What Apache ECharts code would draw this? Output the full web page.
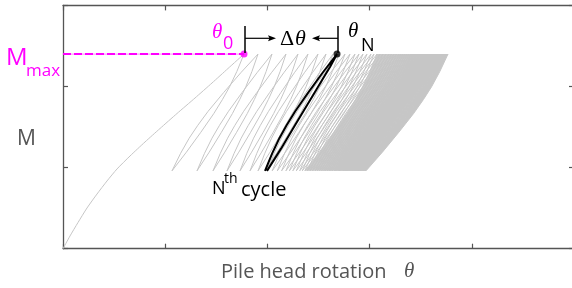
<!DOCTYPE html>
<html><head><meta charset="utf-8">
<script src="https://cdn.jsdelivr.net/npm/echarts/dist/echarts.min.js"></script>
<style>html,body{margin:0;padding:0;background:#fff;overflow:hidden}#c{width:572px;height:288px}</style>
</head><body><div id="c"></div>
<script>
// Axis ranges (arbitrary units, no tick labels in the reference)
const xTicks = [0, 102.2, 204.4, 306.6, 408.8, 511];
const yTicks = [0, 100, 200, 300];
const M_MAX = 240;
const M_MIN = 96;

// Monotonic (backbone) loading curve up to theta_0
const backboneTheta = [0, 7, 15, 24, 34, 44, 54, 67, 82, 97, 114, 132, 149, 165, 181];
const backboneM     = [0, 15.7, 32.3, 50.2, 67.4, 83.5, 98.3, 114.3, 131.6, 148.2, 166.7, 185.8, 204.3, 222.2, 240];

// Peak rotations (at M_MAX) and the valley rotation (at M_MIN) reached after each one
const peaks = [181,195,209,223,235,245,255,263,270,
  276,282,287,292,296,300,304,308,311,314,
  317,320,323,326,328.5,331,333.5,336,338,340,
  342,344,346,348,349.5,351,352.5,354,355.5,357,
  358.5,360,361.2,362.4,363.6,364.8,366,367.2,368.3,369.4,
  370.5,371.6,372.6,373.6,374.6,375.6,376.5,377.4,378.3,379.2,
  380.1,381,381.8,382.6,383.4,384.2,385];
const valleys = [109,134,150,164,177,187,195,202,204,
  209.2,214.3,218.6,222.9,226.4,229.8,233.3,236.7,239.3,241.9,
  244.5,247,249.6,252.2,254.4,256.5,258.7,260.8,262.5,264.3,
  266,267.7,269.4,271.2,272.5,273.7,275,276.3,277.6,278.9,
  280.2,281.5,282.5,283.5,284.5,285.6,286.6,287.6,288.6,289.5,
  290.5,291.4,292.3,293.1,294,294.9,295.6,296.4,297.2,297.9,
  298.7,299.5,300.2,300.9,301.5,302.2,303];

// Highlighted N-th cycle
const nthValley = 202;
const nthPeak = 274;
const nthReturn = 204;

// Branch shapes (fraction of rotation span vs fraction of moment span)
const branchS = [0, 0.1, 0.2, 0.3, 0.42, 0.6, 0.8, 1];
const branchG = [0, 0.15, 0.28, 0.39, 0.51, 0.67, 0.84, 1];
const nthUnloadG = [0, 0.11, 0.21, 0.31, 0.43, 0.61, 0.81, 1];

// first cycle whose lines merge into the solid grey band
const solidFrom = 18;

const theta0 = peaks[0];

function unload(p, v, out, skipFirst, G) {
  G = G || branchG;
  for (let k = skipFirst ? 1 : 0; k < branchS.length; k++)
    out.push([p - branchS[k] * (p - v), M_MAX - G[k] * (M_MAX - M_MIN)]);
}
function reload(v, p, out, skipFirst) {
  for (let k = skipFirst ? 1 : 0; k < branchS.length; k++)
    out.push([v + branchS[k] * (p - v), M_MIN + branchG[k] * (M_MAX - M_MIN)]);
}

const cyc = [];
for (let i = 0; i < peaks.length; i++) {
  unload(peaks[i], valleys[i], cyc, i > 0);
  if (i + 1 < peaks.length) reload(valleys[i], peaks[i + 1], cyc, true);
}
const nth = [];
reload(nthValley, nthPeak, nth, false);
unload(nthPeak, nthReturn, nth, true, nthUnloadG);

// solid band: between unload branch of cycle solidFrom and the last unload branch
const band = [];
unload(peaks[solidFrom], valleys[solidFrom], band, false);
const lastB = [];
unload(peaks[peaks.length - 1], valleys[valleys.length - 1], lastB, false);
for (let k = lastB.length - 1; k >= 0; k--) band.push(lastB[k]);

const backbone = backboneTheta.map((t, i) => [t, backboneM[i]]);

const chart = echarts.init(document.getElementById('c'), null, {renderer: 'canvas'});
const axisCol = '#555';
function ax(pos, min, max, interval) {
  return {
    type: 'value', position: pos, min: min, max: max, interval: interval,
    axisLine: {show: true, onZero: false, lineStyle: {color: axisCol, width: 1.3}},
    axisTick: {show: true, inside: true, length: 5, lineStyle: {color: axisCol, width: 1.2}},
    axisLabel: {show: false}, splitLine: {show: false}
  };
}
const grey = '#c6c6c6';
chart.setOption({
  animation: false,
  grid: {left: 63, right: -2, top: 5.4, bottom: 39.3, containLabel: false, outerBoundsMode: 'none'},
  xAxis: [ax('bottom', xTicks[0], xTicks[xTicks.length - 1], xTicks[1] - xTicks[0]),
          ax('top', xTicks[0], xTicks[xTicks.length - 1], xTicks[1] - xTicks[0])],
  yAxis: [ax('left', yTicks[0], yTicks[yTicks.length - 1], yTicks[1] - yTicks[0]),
          ax('right', yTicks[0], yTicks[yTicks.length - 1], yTicks[1] - yTicks[0])],
  series: [
    {type: 'custom', silent: true, z: 1, data: [0],
     renderItem: function (params, api) {
       return {type: 'polygon', shape: {points: band.map(function (p) { return api.coord(p); })},
               style: {fill: '#cccccc'}};
     }},
    {type: 'line', data: cyc, symbol: 'none', silent: true, lineStyle: {color: grey, width: 1}, z: 2},
    {type: 'line', data: backbone, symbol: 'none', smooth: 0.2, silent: true, lineStyle: {color: grey, width: 1}, z: 2},
    {type: 'line', data: [[0, M_MAX], [theta0, M_MAX]], symbol: 'none', silent: true,
     lineStyle: {color: '#ff9cff', width: 1.2}, z: 3},
    {type: 'line', data: [[0, M_MAX], [theta0, M_MAX]], symbol: 'none', silent: true,
     lineStyle: {color: '#ff00ff', width: 2, type: [8, 3]}, z: 4},
    {type: 'line', data: nth, symbol: 'none', silent: true, lineStyle: {color: '#000', width: 2}, z: 5},
    {type: 'scatter', data: [[theta0, M_MAX]], symbolSize: 7, itemStyle: {color: '#ff00ff'}, silent: true, z: 6},
    {type: 'scatter', data: [[nthPeak, M_MAX]], symbolSize: 7, itemStyle: {color: '#000'}, silent: true, z: 6}
  ]
});

const p0 = chart.convertToPixel({gridIndex: 0}, [theta0, M_MAX]);
const pN = chart.convertToPixel({gridIndex: 0}, [nthPeak, M_MAX]);
const sans = '"Open Sans", "Noto Sans", sans-serif';
const serifI = 'italic {S}px "Liberation Serif", "DejaVu Serif", serif';
const serif = '{S}px "Liberation Serif", "DejaVu Serif", serif';
function tx(text, x, y, size, color, family) {
  return {type: 'text', silent: true, z: 50,
    style: {text: text, x: x, y: y, font: family.indexOf('{S}') >= 0 ? family.replace('{S}', size) : size + 'px ' + family,
      fill: color, align: 'left', verticalAlign: 'middle'}};
}
const ay = 38.3;
const gfx = [
  // M_max
  tx('M', 6, 58.5, 24, '#ff00ff', sans),
  tx('max', 26, 71, 17, '#ff00ff', sans),
  // M axis name
  tx('M', 17, 139, 21, '#555', sans),
  // theta_0
  tx('θ', p0[0] - 32, 32, 21, '#ff00ff', serifI),
  tx('0', p0[0] - 21, 43.5, 18, '#ff00ff', sans),
  // theta_N
  tx('θ', pN[0] + 11, 31, 21, '#000', serifI),
  tx('N', pN[0] + 24, 46, 18, '#000', sans),
  // delta theta
  tx('Δ', 280, 39.5, 22, '#000', serif),
  tx('θ', 295, 39.5, 22, '#000', serifI),
  // N-th cycle
  tx('N', 212, 189, 18, '#000', sans),
  tx('th', 224, 179, 14, '#000', sans),
  tx('cycle', 241, 190, 20, '#000', sans),
  // x axis name
  tx('Pile head rotation', 221, 272, 20, '#555', sans),
  tx('θ', 404, 271, 21, '#555', serifI),
  // vertical markers
  {type: 'line', silent: true, z: 50, shape: {x1: p0[0] + 1, y1: 26, x2: p0[0] + 1, y2: p0[1] - 1}, style: {stroke: '#000', lineWidth: 1.5}},
  {type: 'line', silent: true, z: 50, shape: {x1: pN[0] + 1, y1: 26, x2: pN[0] + 1, y2: pN[1] - 1}, style: {stroke: '#000', lineWidth: 1.5}},
  // arrows
  {type: 'line', silent: true, z: 50, shape: {x1: p0[0] + 1, y1: ay, x2: p0[0] + 27, y2: ay}, style: {stroke: '#000', lineWidth: 1.2}},
  {type: 'polygon', silent: true, z: 50, shape: {points: [[p0[0] + 32, ay], [p0[0] + 24, ay - 3], [p0[0] + 25.5, ay], [p0[0] + 24, ay + 3]]}, style: {fill: '#000'}},
  {type: 'line', silent: true, z: 50, shape: {x1: pN[0] + 1, y1: ay, x2: pN[0] - 20, y2: ay}, style: {stroke: '#000', lineWidth: 1.2}},
  {type: 'polygon', silent: true, z: 50, shape: {points: [[pN[0] - 25, ay], [pN[0] - 17, ay - 3], [pN[0] - 18.5, ay], [pN[0] - 17, ay + 3]]}, style: {fill: '#000'}}
];
chart.setOption({graphic: gfx});
</script>
</body></html>
